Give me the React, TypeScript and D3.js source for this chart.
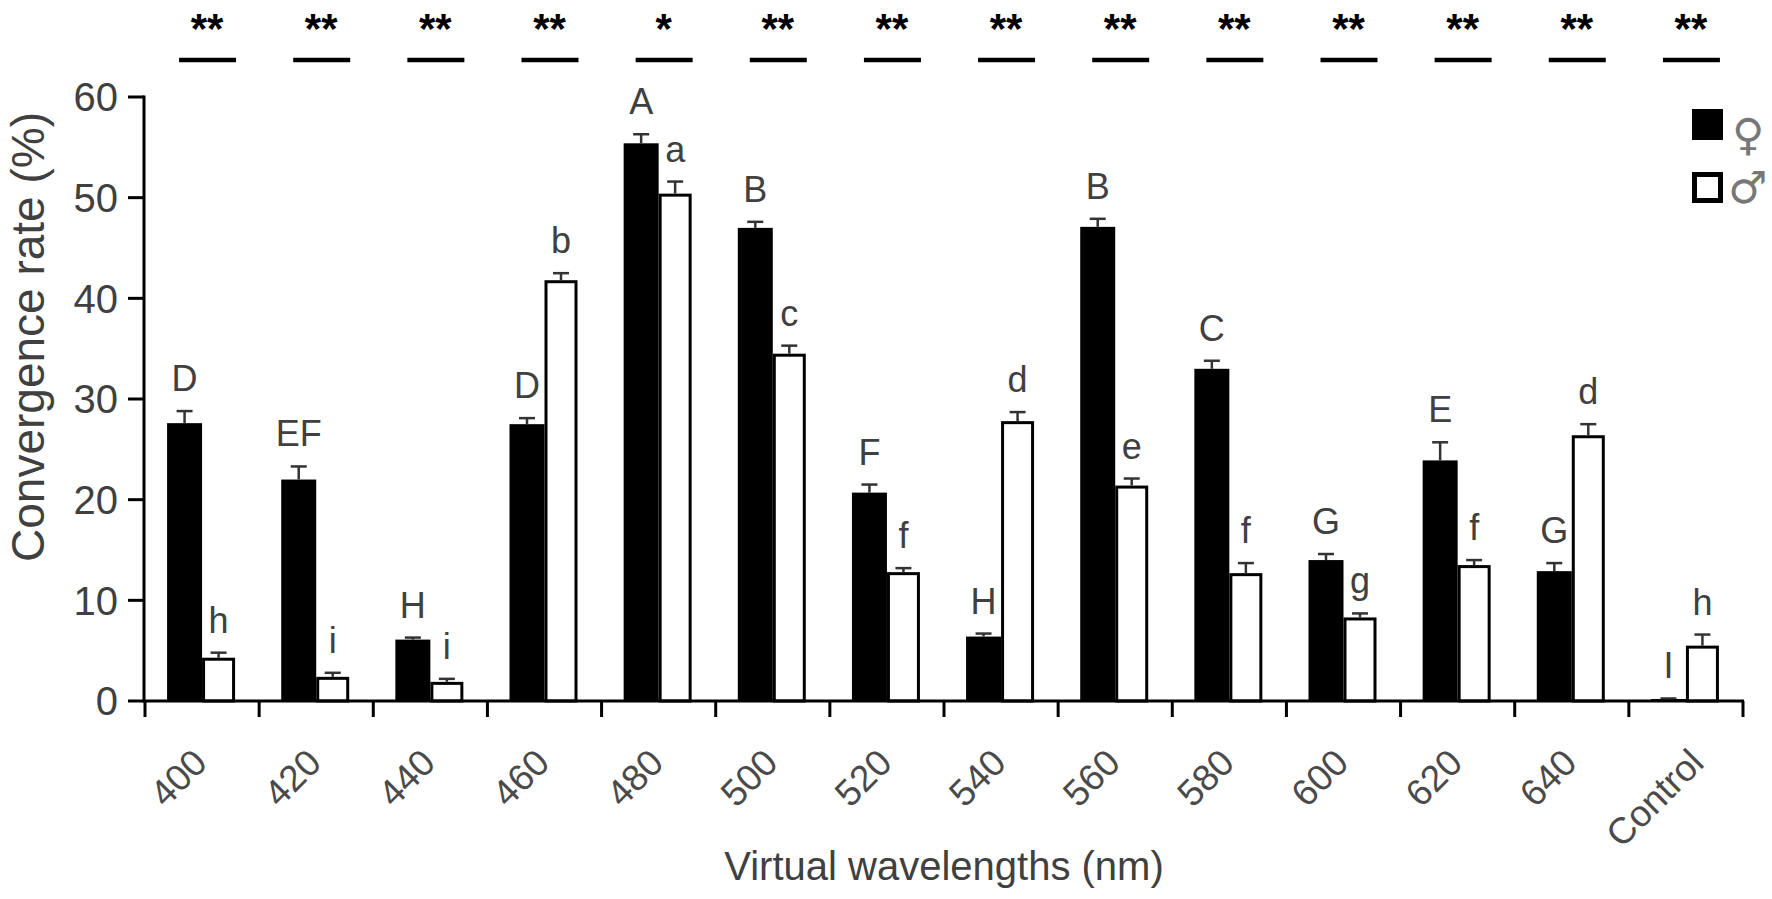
import React, { useEffect, useRef } from 'react';
import * as d3 from 'd3';

const categories = ['400', '420', '440', '460', '480', '500', '520', '540', '560', '580', '600', '620', '640', 'Control'];
const femaleMean = [27.6, 22.0, 6.1, 27.5, 55.4, 47.0, 20.7, 6.4, 47.1, 33.0, 14.0, 23.9, 12.9, 0.2];
const femaleErr = [1.2, 1.3, 0.2, 0.6, 0.9, 0.6, 0.8, 0.3, 0.8, 0.8, 0.6, 1.8, 0.8, 0.05];
const maleMean = [4.3, 2.4, 1.9, 41.8, 50.4, 34.5, 12.8, 27.8, 21.4, 12.7, 8.3, 13.5, 26.4, 5.5];
const maleErr = [0.5, 0.4, 0.3, 0.7, 1.2, 0.8, 0.4, 0.9, 0.7, 1.0, 0.4, 0.5, 1.1, 1.1];
const femaleLetters = ['D', 'EF', 'H', 'D', 'A', 'B', 'F', 'H', 'B', 'C', 'G', 'E', 'G', 'I'];
const maleLetters = ['h', 'i', 'i', 'b', 'a', 'c', 'f', 'd', 'e', 'f', 'g', 'f', 'd', 'h'];
const significance = ['**', '**', '**', '**', '*', '**', '**', '**', '**', '**', '**', '**', '**', '**'];
const yTicks = [0, 10, 20, 30, 40, 50, 60];

const W = 1772;
const H = 899;
const FONT = '"Liberation Sans", Arial, sans-serif';
const TEXT = '#404040';

export default function App() {
  const svgRef = useRef<SVGSVGElement | null>(null);

  useEffect(() => {
    document.body.style.margin = '0';
    const svg = d3.select(svgRef.current);
    svg.selectAll('*').remove();

    const x = d3.scaleBand<string>().domain(categories).range([145, 1743]).padding(0);
    const y = d3.scaleLinear().domain([0, 60]).range([701, 97]);
    const center = (c: string) => (x(c) as number) + x.bandwidth() / 2;

    const rows = categories.map((c, i) => ({
      c,
      f: femaleMean[i], fe: femaleErr[i], fl: femaleLetters[i],
      m: maleMean[i], me: maleErr[i], ml: maleLetters[i],
      sig: significance[i],
    }));

    const g = svg.append('g');

    // --- bars ---
    g.selectAll('.fbar').data(rows).enter().append('rect')
      .attr('x', d => center(d.c) - 35)
      .attr('width', 35)
      .attr('y', d => y(d.f))
      .attr('height', d => y(0) - y(d.f))
      .attr('fill', '#000');

    g.selectAll('.mbar').data(rows).enter().append('rect')
      .attr('x', d => center(d.c) + 1.5)
      .attr('width', 30)
      .attr('y', d => y(d.m) + 1.5)
      .attr('height', d => Math.max(0, y(0) - y(d.m) - 1.5))
      .attr('fill', '#fff')
      .attr('stroke', '#000')
      .attr('stroke-width', 3);

    // --- error bars (upper only) ---
    const errs = rows.flatMap(d => [
      { cx: center(d.c) - 17.5, v: d.f, e: d.fe },
      { cx: center(d.c) + 16.5, v: d.m, e: d.me },
    ]);
    const eg = g.selectAll('.err').data(errs).enter().append('g').attr('stroke', '#333').attr('stroke-width', 2.5);
    eg.append('line')
      .attr('x1', d => d.cx).attr('x2', d => d.cx)
      .attr('y1', d => y(d.v)).attr('y2', d => y(d.v + d.e));
    eg.append('line')
      .attr('x1', d => d.cx - 8).attr('x2', d => d.cx + 8)
      .attr('y1', d => y(d.v + d.e)).attr('y2', d => y(d.v + d.e));

    // --- group letters ---
    g.selectAll('.fl').data(rows).enter().append('text')
      .attr('x', d => center(d.c) - 17.5)
      .attr('y', d => y(d.f + d.fe) - 20)
      .attr('text-anchor', 'middle')
      .attr('font-family', FONT).attr('font-size', 36).attr('fill', TEXT)
      .text(d => d.fl);
    g.selectAll('.ml').data(rows).enter().append('text')
      .attr('x', d => center(d.c) + 16.5)
      .attr('y', d => y(d.m + d.me) - 20)
      .attr('text-anchor', 'middle')
      .attr('font-family', FONT).attr('font-size', 36).attr('fill', TEXT)
      .text(d => d.ml);

    // --- significance marks on top ---
    g.selectAll('.sig').data(rows).enter().append('text')
      .attr('x', d => center(d.c) + 5)
      .attr('y', 43)
      .attr('text-anchor', 'middle')
      .attr('font-family', FONT).attr('font-weight', 'bold').attr('font-size', 42).attr('fill', '#000')
      .text(d => d.sig);
    g.selectAll('.sigline').data(rows).enter().append('line')
      .attr('x1', d => center(d.c) - 23).attr('x2', d => center(d.c) + 34)
      .attr('y1', 60).attr('y2', 60)
      .attr('stroke', '#000').attr('stroke-width', 4.5);

    // --- axes ---
    const axisColor = '#000';
    g.append('line').attr('x1', 144).attr('x2', 144).attr('y1', y(60) - 1.5).attr('y2', y(0) + 1.5)
      .attr('stroke', axisColor).attr('stroke-width', 3);
    g.append('line').attr('x1', 144).attr('x2', 1744).attr('y1', y(0)).attr('y2', y(0))
      .attr('stroke', axisColor).attr('stroke-width', 3);

    g.selectAll('.ytick').data(yTicks).enter().append('line')
      .attr('x1', 128).attr('x2', 144)
      .attr('y1', d => y(d)).attr('y2', d => y(d))
      .attr('stroke', axisColor).attr('stroke-width', 3);
    g.selectAll('.ylab').data(yTicks).enter().append('text')
      .attr('x', 118).attr('y', d => y(d)).attr('dy', '0.36em')
      .attr('text-anchor', 'end')
      .attr('font-family', FONT).attr('font-size', 40).attr('fill', TEXT)
      .text(d => d);

    const bounds = [...categories.map(c => x(c) as number), 1743];
    g.selectAll('.xtick').data(bounds).enter().append('line')
      .attr('x1', d => d).attr('x2', d => d)
      .attr('y1', y(0)).attr('y2', y(0) + 16)
      .attr('stroke', axisColor).attr('stroke-width', 3);
    g.selectAll('.xlab').data(categories).enter().append('text')
      .attr('transform', c => `translate(${center(c) + (c === 'Control' ? 20 : 7)},765) rotate(-45)`)
      .attr('text-anchor', 'end')
      .attr('font-family', FONT).attr('font-size', 37).attr('fill', '#4a4a4a')
      .text(c => c);

    // --- axis titles ---
    g.append('text')
      .attr('x', 944).attr('y', 880)
      .attr('text-anchor', 'middle')
      .attr('font-family', FONT).attr('font-size', 40).attr('fill', TEXT)
      .text('Virtual wavelengths (nm)');
    g.append('text')
      .attr('transform', 'translate(44,337) rotate(-90)')
      .attr('text-anchor', 'middle')
      .attr('font-family', FONT).attr('font-size', 46).attr('fill', TEXT)
      .text('Convergence rate (%)');

    // --- legend ---
    const lg = g.append('g');
    lg.append('rect').attr('x', 1692).attr('y', 109).attr('width', 31).attr('height', 31).attr('fill', '#000');
    lg.append('rect').attr('x', 1694.5).attr('y', 174.5).attr('width', 26).attr('height', 26)
      .attr('fill', '#fff').attr('stroke', '#000').attr('stroke-width', 5);
    lg.append('text').attr('x', 1748).attr('y', 150).attr('text-anchor', 'middle')
      .attr('font-family', '"DejaVu Sans", sans-serif').attr('font-size', 44).attr('fill', '#777')
      .text('\u2640');
    lg.append('text').attr('x', 1748).attr('y', 203).attr('text-anchor', 'middle')
      .attr('font-family', '"DejaVu Sans", sans-serif').attr('font-size', 44).attr('fill', '#777')
      .text('\u2642');
  }, []);

  return <svg ref={svgRef} width={W} height={H} style={{ display: 'block', background: '#fff' }} />;
}
